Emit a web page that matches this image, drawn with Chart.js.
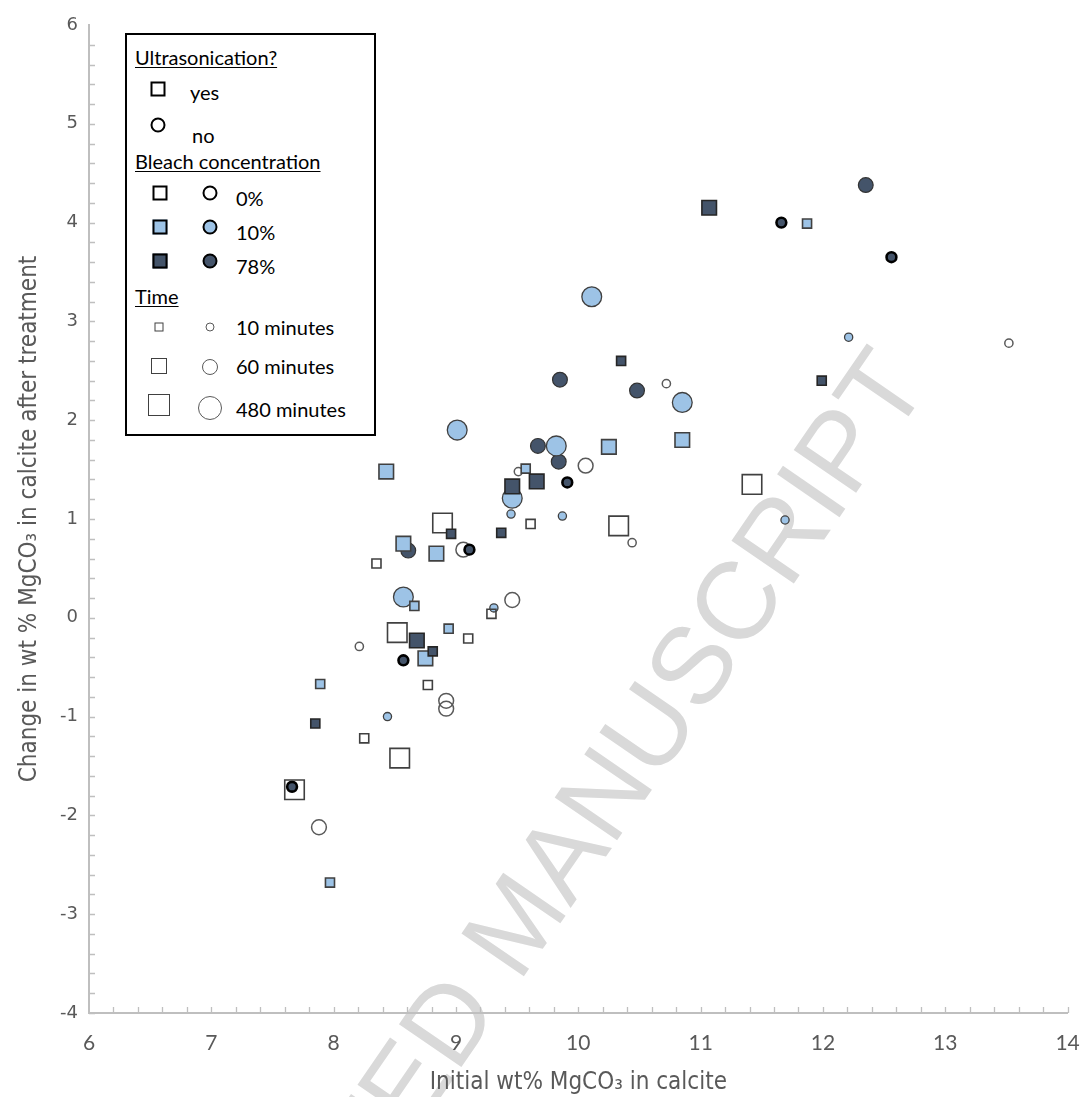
<!DOCTYPE html>
<html><head><meta charset="utf-8">
<script src="https://cdn.jsdelivr.net/npm/chart.js@4"></script>
<style>
html,body{margin:0;padding:0;background:#fff;}
#wrap{position:relative;width:1083px;height:1097px;overflow:hidden;background:#fff;}
#wm{position:absolute;left:515px;top:922px;transform:translate(-50%,-50%) rotate(-55.5deg);font-family:'Liberation Sans',Arial,sans-serif;font-size:110px;line-height:1;color:#d9d9d9;white-space:nowrap;z-index:0;}
#c{position:absolute;left:0;top:0;z-index:1;}
#legend{position:absolute;left:125px;top:33px;width:247px;height:399px;border:2px solid #000;background:#fff;z-index:2;font-family:Lato,'Open Sans',sans-serif;font-size:20px;color:#000;}
.t{position:absolute;white-space:nowrap;line-height:1;transform:translateY(-50%);}
.u{text-decoration:underline;text-underline-offset:2px;text-decoration-thickness:1px;}
.sym{position:absolute;box-sizing:border-box;transform:translate(-50%,-50%);}
</style>
</head>
<body>
<div id="wrap">
  <div id="wm">ACCEPTED MANUSCRIPT</div>
  <canvas id="c" width="1083" height="1097"></canvas>
  <div id="legend"></div>
</div>
<script>
// ---------- data (x = initial wt% MgCO3, y = change in wt% MgCO3) ----------
// Squares: ultrasonication = yes
const sq0pct10min   = [[8.35,0.55],[9.61,0.95],[9.29,0.04],[9.10,-0.21],[8.77,-0.68],[8.25,-1.22]];
const sq0pct480min  = [[8.89,0.96],[8.52,-0.15],[8.54,-1.42],[7.68,-1.74],[10.33,0.93],[11.42,1.35]];
const sq10pct10min  = [[11.87,3.99],[9.57,1.51],[8.66,0.12],[8.94,-0.11],[7.89,-0.67],[7.97,-2.68]];
const sq10pct60min  = [[8.43,1.48],[10.25,1.73],[10.85,1.80],[8.57,0.75],[8.84,0.65],[8.75,-0.41]];
const sq78pct10min  = [[10.35,2.60],[11.99,2.40],[9.37,0.86],[8.96,0.85],[8.81,-0.34],[7.85,-1.07]];
const sq78pct60min  = [[11.07,4.15],[9.46,1.33],[9.66,1.38],[8.68,-0.23]];
// Circles: ultrasonication = no
const ci0pct10min   = [[13.52,2.78],[10.72,2.37],[9.51,1.48],[10.44,0.76],[8.21,-0.29]];
const ci0pct60min   = [[10.06,1.54],[9.06,0.69],[9.46,0.18],[8.92,-0.84],[8.92,-0.92],[7.88,-2.12]];
const ci10pct10min  = [[12.21,2.84],[11.69,0.99],[9.45,1.05],[9.87,1.03],[9.31,0.10],[8.44,-1.00]];
const ci10pct480min = [[10.11,3.25],[10.85,2.18],[9.01,1.90],[9.82,1.74],[9.46,1.21],[8.57,0.21]];
const ci78pct10min  = [[11.66,4.00],[12.56,3.65],[9.91,1.37],[9.11,0.69],[8.57,-0.43],[7.66,-1.71]];
const ci78pct60min  = [[12.35,4.38],[9.85,2.41],[10.48,2.30],[9.67,1.74],[9.84,1.58],[8.61,0.68]];

const xRange = [6, 14];
const yRange = [-4, 6];
const xTitle = 'Initial wt% MgCO\u2083 in calcite';
const yTitle = 'Change in wt % MgCO\u2083 in calcite after treatment';

// ---------- styles ----------
const LIGHT = '#9dc3e6', DARK = '#44546a', NONE = 'rgba(255,255,255,0)';
const SQ = {10: 6.4, 60: 10.3, 480: 13.8};
const CI = {10: 4.1, 60: 7.4, 480: 9.9};
const toXY = arr => arr.map(p => ({x: p[0], y: p[1]}));

const series = [
  {d: sq78pct10min,  s: 'rect',   r: SQ[10],  bg: DARK,  bc: '#262626', bw: 1.6},
  {d: sq78pct60min,  s: 'rect',   r: SQ[60],  bg: DARK,  bc: '#262626', bw: 1.6},
  {d: sq10pct10min,  s: 'rect',   r: SQ[10],  bg: LIGHT, bc: '#404040', bw: 1.6},
  {d: sq10pct60min,  s: 'rect',   r: SQ[60],  bg: LIGHT, bc: '#404040', bw: 1.6},
  {d: sq0pct10min,   s: 'rect',   r: SQ[10],  bg: NONE,  bc: '#404040', bw: 1.6},
  {d: sq0pct480min,  s: 'rect',   r: SQ[480], bg: NONE,  bc: '#404040', bw: 1.6},
  {d: ci78pct10min,  s: 'circle', r: CI[10]+0.8, bg: DARK, bc: '#000000', bw: 2.6},
  {d: ci10pct480min, s: 'circle', r: CI[480], bg: LIGHT, bc: '#404040', bw: 1.3},
  {d: ci78pct60min,  s: 'circle', r: CI[60],  bg: DARK,  bc: '#333333', bw: 1.2},
  {d: ci10pct10min,  s: 'circle', r: CI[10],  bg: LIGHT, bc: '#404040', bw: 1.3},
  {d: ci0pct10min,   s: 'circle', r: CI[10],  bg: NONE,  bc: '#595959', bw: 1.5},
  {d: ci0pct60min,   s: 'circle', r: CI[60],  bg: NONE,  bc: '#595959', bw: 1.5}
];

const datasets = series.map(o => ({
  data: toXY(o.d),
  pointStyle: o.s,
  pointRadius: o.r,
  pointHoverRadius: o.r,
  pointBackgroundColor: o.bg,
  pointBorderColor: o.bc,
  pointBorderWidth: o.bw,
  pointHoverBorderWidth: o.bw,
  showLine: false,
  clip: false
}));

const AXIS = '#bfbfbf', TXT = '#595959';
const NARROW = "'Liberation Sans Narrow','DejaVu Sans Condensed',sans-serif";

const minorTicks = {
  id: 'minorTicks',
  afterDraw(chart) {
    const {ctx, chartArea: a, scales: {x, y}} = chart;
    ctx.save();
    ctx.strokeStyle = AXIS;
    ctx.lineWidth = 1.3;
    ctx.beginPath();
    for (let i = 1; i <= (xRange[1]-xRange[0])*5; i++) {
      const px = Math.round(x.getPixelForValue(xRange[0] + i*0.2)) + 0.5;
      ctx.moveTo(px, a.bottom); ctx.lineTo(px, a.bottom - 6);
    }
    for (let i = 0; i < (yRange[1]-yRange[0])*5; i++) {
      const py = Math.round(y.getPixelForValue(yRange[0] + i*0.2)) + 0.5;
      ctx.moveTo(a.left, py); ctx.lineTo(a.left + 6, py);
    }
    ctx.stroke();
    ctx.restore();
  }
};

new Chart(document.getElementById('c'), {
  type: 'scatter',
  data: {datasets},
  options: {
    responsive: false,
    animation: false,
    devicePixelRatio: 1,
    layout: {padding: {top: 25, right: 15, left: 0, bottom: 0}},
    plugins: {legend: {display: false}, tooltip: {enabled: false}},
    scales: {
      x: {
        type: 'linear', min: xRange[0], max: xRange[1],
        afterFit: s => { s.height = 84; s.paddingLeft = 0; s.paddingRight = 0; },
        grid: {display: false, drawTicks: false},
        border: {display: true, color: AXIS, width: 2},
        ticks: {stepSize: 1, color: TXT, padding: 18, font: {family: "Lato,'Liberation Sans',sans-serif", size: 21}},
        title: {display: true, text: xTitle, color: TXT, font: {family: NARROW, size: 24}, padding: {top: 0, bottom: 0}}
      },
      y: {
        type: 'linear', min: yRange[0], max: yRange[1],
        afterFit: s => { s.width = 89; s.paddingTop = 0; s.paddingBottom = 0; },
        grid: {display: false, drawTicks: false},
        border: {display: true, color: AXIS, width: 2},
        ticks: {stepSize: 1, color: TXT, padding: 11, font: {family: "'DejaVu Sans',sans-serif", size: 18}},
        title: {display: true, text: yTitle, color: TXT, font: {family: NARROW, size: 24}, padding: {top: 15, bottom: 0}}
      }
    }
  },
  plugins: [minorTicks]
});

// ---------- legend (HTML overlay) ----------
const lg = document.getElementById('legend');
const OX = 127, OY = 35;
function txt(s, x, cy, underline) {
  const e = document.createElement('div');
  e.className = 't' + (underline ? ' u' : '');
  e.textContent = s;
  e.style.left = (x - OX) + 'px';
  e.style.top = (cy - OY) + 'px';
  lg.appendChild(e);
}
function sym(shape, cx, cy, size, fill, border, bw) {
  const e = document.createElement('div');
  e.className = 'sym';
  e.style.left = (cx - OX) + 'px';
  e.style.top = (cy - OY) + 'px';
  e.style.width = size + 'px';
  e.style.height = size + 'px';
  e.style.background = fill;
  e.style.border = bw + 'px solid ' + border;
  if (shape === 'c') e.style.borderRadius = '50%';
  lg.appendChild(e);
}
txt('Ultrasonication?', 135, 57, true);
sym('s', 158, 89, 15, '#fff', '#000', 2.2); txt('yes', 190, 92);
sym('c', 158, 125, 15, '#fff', '#000', 2.2); txt('no', 192, 135);
txt('Bleach concentration', 135, 161, true);
sym('s', 160, 193, 15, '#fff', '#000', 2.2); sym('c', 210, 193, 15, '#fff', '#000', 2.2); txt('0%', 236, 198);
sym('s', 160, 227, 15, LIGHT, '#000', 2.2); sym('c', 210, 227, 15, LIGHT, '#000', 2.2); txt('10%', 236, 232);
sym('s', 160, 261, 15, DARK, '#000', 2.2); sym('c', 210, 261, 15, DARK, '#000', 2.2); txt('78%', 236, 266);
txt('Time', 135, 296, true);
sym('s', 159, 327, 9, '#fff', '#404040', 1.6); sym('c', 210, 327, 9, '#fff', '#595959', 1.4); txt('10 minutes', 236, 327);
sym('s', 159, 366, 16, '#fff', '#404040', 1.6); sym('c', 210, 367, 16, '#fff', '#595959', 1.4); txt('60 minutes', 236, 366);
sym('s', 159, 405, 22, '#fff', '#404040', 1.6); sym('c', 210, 408, 24, '#fff', '#595959', 1.4); txt('480 minutes', 236, 409);
</script>
</body></html>
